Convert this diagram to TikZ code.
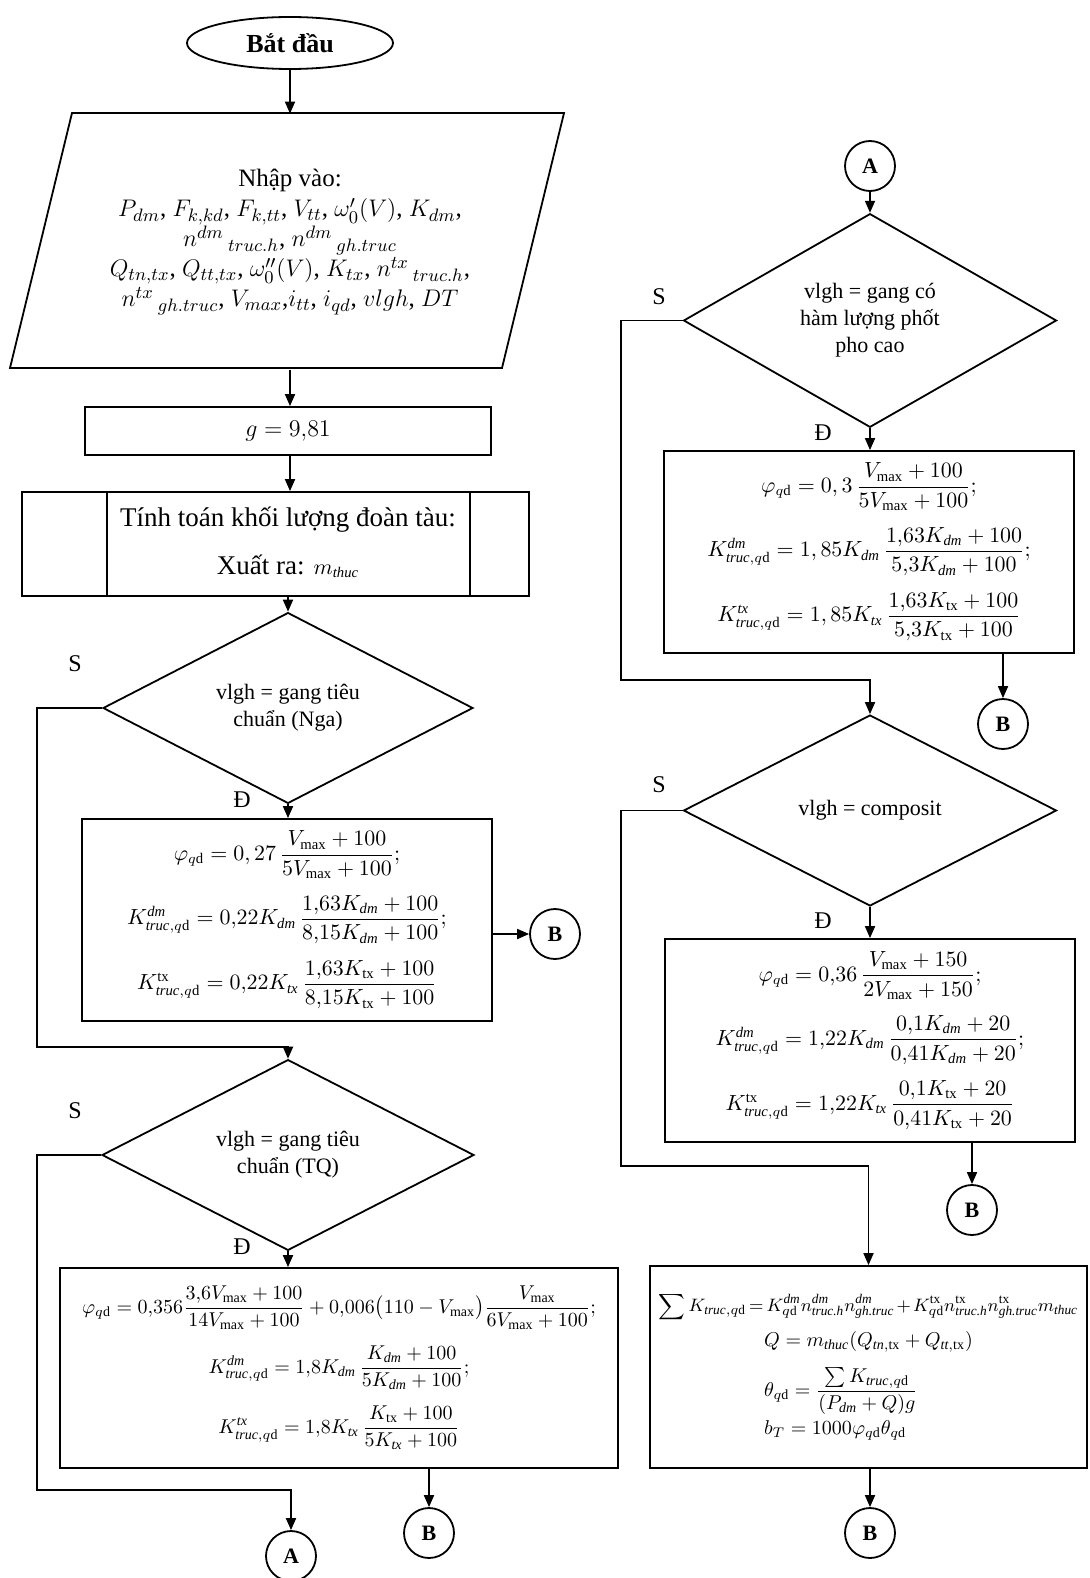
\documentclass[tikz,border=0pt]{standalone}
\usepackage{amsmath}
\usepackage{fontspec}
\setmainfont{Liberation Serif}
\usetikzlibrary{shapes.geometric,arrows.meta,calc}
\newcommand{\ital}[1]{\text{\itshape #1}}
\newcommand{\qdd}{q\mathrm{d}}
\tikzset{
  arr/.style={-{Triangle[length=6pt,width=5pt]}},
  box/.style={draw,rectangle,inner sep=0pt,align=center,font=\fontsize{10.5}{12.5}\selectfont},
  cond/.style={draw,diamond,inner sep=0pt,align=center,font=\fontsize{11}{13.5}\selectfont},
  conn/.style={draw,circle,minimum size=25pt,inner sep=0pt,font=\bfseries\fontsize{11}{13}\selectfont},
  lbl/.style={font=\fontsize{12}{14}\selectfont}
}
\begin{document}
\begin{tikzpicture}[x=0.5pt,y=-0.5pt,line width=0.9pt]
\useasboundingbox (0,0) rectangle (1089,1578);
\node[draw,ellipse,minimum width=103pt,minimum height=26pt,inner sep=0pt,font=\bfseries\fontsize{13}{15}\selectfont] (start) at (290,43) {Bắt đầu};
\draw (72,113) -- (564,113) -- (502,368) -- (10,368) -- cycle;
\node[minimum height=127.5pt,inner sep=0pt,align=center,font=\fontsize{12.5}{15}\selectfont] (input) at (290,242) {Nhập vào:\\
$P_{dm}$, $F_{k,kd}$, $F_{k,tt}$, $V_{tt}$, $\omega'_0(V)$, $K_{dm}$,\\
$n^{dm}\,{}_{truc.h}$, $n^{dm}\,{}_{gh.truc}$\\
$Q_{tn,tx}$, $Q_{tt,tx}$, $\omega''_0(V)$, $K_{tx}$, $n^{tx}\,{}_{truc.h}$,\\
$n^{tx}\,{}_{gh.truc}$, $V_{max}$,$i_{tt}$, $i_{qd}$, $vlgh$, $DT$};
\node[box,minimum width=203pt,minimum height=24pt,font=\fontsize{12.5}{15}\selectfont] (gbox) at (288,431) {$g=9{,}81$};
\node[box,minimum width=253.5pt,minimum height=52pt] (proc) at (275.5,544) {};
\draw ($(proc.north west)+(86,0)$) -- ($(proc.south west)+(86,0)$);
\draw ($(proc.north east)+(-60,0)$) -- ($(proc.south east)+(-60,0)$);
\node[align=center,font=\fontsize{13.5}{16}\selectfont] (proctxt) at (288,542) {Tính toán khối lượng đoàn tàu:\\[8pt] Xuất ra: {\fontsize{10.5}{12}\selectfont$m_{\ital{thuc}}$}};
\node[cond,minimum width=185pt,minimum height=75.5pt] (d1) at (288,708) {vlgh = gang tiêu\\chuẩn (Nga)};
\node[box,minimum width=205pt,minimum height=101pt] (b1) at (287,920) {%
$\varphi_{\qdd}=0,27\,\dfrac{V_{\max}+100}{5V_{\max}+100};$\\[7pt]
$K^{\ital{dm}}_{\ital{truc},\qdd}=0{,}22K_{\ital{dm}}\,\dfrac{1{,}63K_{\ital{dm}}+100}{8{,}15K_{\ital{dm}}+100};$\\[7pt]
$K^{\mathrm{tx}}_{\ital{truc},\qdd}=0{,}22K_{\ital{tx}}\,\dfrac{1{,}63K_{\mathrm{tx}}+100}{8{,}15K_{\mathrm{tx}}+100}$};
\node[conn] (B1) at (555,934) {B};
\node[cond,minimum width=186pt,minimum height=75.5pt] (d2) at (288,1155) {vlgh = gang tiêu\\chuẩn (TQ)};
\node[box,minimum width=279pt,minimum height=100pt,font=\fontsize{10}{12}\selectfont] (b2) at (339,1368) {%
$\varphi_{\qdd}=0{,}356\dfrac{3{,}6V_{\max}+100}{14V_{\max}+100}+0{,}006\bigl(110-V_{\max}\bigr)\dfrac{V_{\max}}{6V_{\max}+100};$\\[7pt]
$K^{\ital{dm}}_{\ital{truc},\qdd}=1{,}8K_{\ital{dm}}\,\dfrac{K_{\ital{dm}}+100}{5K_{\ital{dm}}+100};$\\[7pt]
$K^{\ital{tx}}_{\ital{truc},\qdd}=1{,}8K_{\ital{tx}}\,\dfrac{K_{\mathrm{tx}}+100}{5K_{\ital{tx}}+100}$};
\node[conn] (A1) at (291,1556) {A};
\node[conn] (B2) at (429,1533) {B};
\node[conn] (A2) at (870,166) {A};
\node[cond,minimum width=186.5pt,minimum height=94.5pt] (d3) at (870,320.5) {vlgh = gang có\\hàm lượng phốt\\pho cao};
\node[box,minimum width=205pt,minimum height=101pt] (b3) at (869,552) {%
$\varphi_{\qdd}=0,3\,\dfrac{V_{\max}+100}{5V_{\max}+100};$\\[7pt]
$K^{\ital{dm}}_{\ital{truc},\qdd}=1,85K_{\ital{dm}}\,\dfrac{1{,}63K_{\ital{dm}}+100}{5{,}3K_{\ital{dm}}+100};$\\[7pt]
$K^{\ital{tx}}_{\ital{truc},\qdd}=1,85K_{\ital{tx}}\,\dfrac{1{,}63K_{\mathrm{tx}}+100}{5{,}3K_{\mathrm{tx}}+100}$};
\node[conn] (B3) at (1003,724) {B};
\node[cond,minimum width=186.5pt,minimum height=95.5pt] (d4) at (870,810.5) {vlgh = composit};
\node[box,minimum width=205pt,minimum height=101.5pt] (b4) at (870,1040.5) {%
$\varphi_{\qdd}=0{,}36\,\dfrac{V_{\max}+150}{2V_{\max}+150};$\\[7pt]
$K^{\ital{dm}}_{\ital{truc},\qdd}=1{,}22K_{\ital{dm}}\,\dfrac{0{,}1K_{\ital{dm}}+20}{0{,}41K_{\ital{dm}}+20};$\\[7pt]
$K^{\mathrm{tx}}_{\ital{truc},\qdd}=1{,}22K_{\ital{tx}}\,\dfrac{0{,}1K_{\mathrm{tx}}+20}{0{,}41K_{\mathrm{tx}}+20}$};
\node[conn] (B4) at (972,1210) {B};
\node[box,minimum width=218.5pt,minimum height=101pt,font=\fontsize{10}{12}\selectfont] (b5) at (868.5,1367) {%
{\fontsize{9.5}{11.5}\selectfont$\medmuskip=2mu\thickmuskip=3mu\displaystyle\sum K_{\ital{truc},\qdd}=K^{\ital{dm}}_{\qdd}n^{\ital{dm}}_{\ital{truc.h}}n^{\ital{dm}}_{\ital{gh.truc}}+K^{\mathrm{tx}}_{\qdd}n^{\mathrm{tx}}_{\ital{truc.h}}n^{\mathrm{tx}}_{\ital{gh.truc}}m_{\ital{thuc}}$}\\[3pt]
\begin{tabular}{@{}l@{}}
$Q=m_{\ital{thuc}}(Q_{\ital{tn},\mathrm{tx}}+Q_{\ital{tt},\mathrm{tx}})$\\[7pt]
$\theta_{\qdd}=\dfrac{\sum K_{\ital{truc},\qdd}}{(P_{\ital{dm}}+Q)g}$\\[7pt]
$b_T=1000\varphi_{\qdd}\theta_{\qdd}$
\end{tabular}};
\node[conn] (B5) at (870,1533) {B};
\coordinate (s1) at (37,1047);
\coordinate (s2) at (37,1490);
\coordinate (s3) at (621,680);
\coordinate (s4) at (621,1166);
\node[lbl] (l1) at (75,664) {S};
\node[lbl] (l2) at (242,800) {Đ};
\node[lbl] (l3) at (75,1111) {S};
\node[lbl] (l4) at (242,1247) {Đ};
\node[lbl] (l5) at (659,297) {S};
\node[lbl] (l6) at (823,433) {Đ};
\node[lbl] (l7) at (659,785) {S};
\node[lbl] (l8) at (823,921) {Đ};
\draw[arr] (start) -- (start |- input.north);
\draw[arr] (start |- input.south) -- (start |- gbox.north);
\draw[arr] (start |- gbox.south) -- (start |- proc.north);
\draw[arr] (d1 |- proc.south) -- (d1.north);
\draw[arr] (d1.south) -- (d1.south |- b1.north);
\draw[arr] (b1.east |- B1) -- (B1);
\draw[arr] (d1.west) -| (s1) -| (d2.north);
\draw[arr] (d2.south) -- (d2.south |- b2.north);
\draw[arr] (d2.west) -| (s2) -| (A1.north);
\draw[arr] (B2 |- b2.south) -- (B2.north);
\draw[arr] (A2) -- (d3.north);
\draw[arr] (d3.south) -- (d3.south |- b3.north);
\draw[arr] (B3 |- b3.south) -- (B3.north);
\draw[arr] (d3.west) -| (s3) -| (d4.north);
\draw[arr] (d4.south) -- (d4.south |- b4.north);
\draw[arr] (B4 |- b4.south) -- (B4.north);
\draw[arr] (d4.west) -| (s4) -| (b5.north);
\draw[arr] (B5 |- b5.south) -- (B5.north);
\end{tikzpicture}
\end{document}
